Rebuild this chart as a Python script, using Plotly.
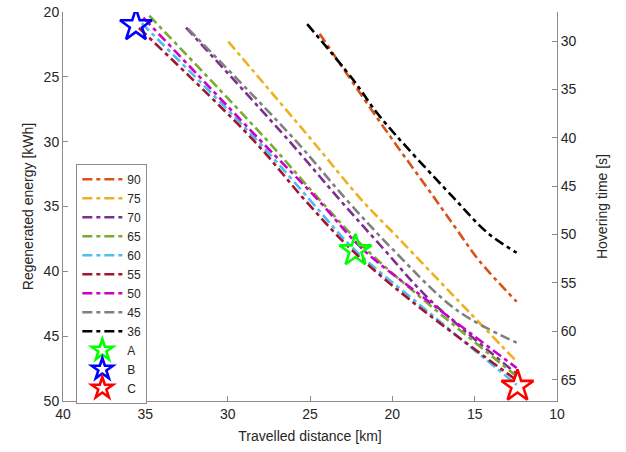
import plotly.graph_objects as go

# ---- data ----
labels = ["90", "75", "70", "65", "60", "55", "50", "45", "36"]
colors = ["#D95319", "#EDB120", "#7E2F8E", "#77AC30", "#4DBEEE",
          "#A2142F", "#CC00CC", "#808080", "#000000"]

x90 = [24.42, 20.55, 17.41, 16.0, 14.68, 12.45]
y90 = [21.67, 28.84, 34.40, 36.94, 39.25, 42.34]

x75 = [29.96, 24.90, 21.86, 19.66, 16.10, 12.45]
y75 = [22.29, 29.87, 34.50, 37.40, 42.13, 46.95]

x70 = [32.53, 26.32, 23.18, 20.57, 17.72, 12.45]
y70 = [21.21, 29.87, 34.50, 38.22, 42.20, 47.90]

x65 = [34.76, 27.63, 24.40, 21.66, 18.10, 12.45]
y65 = [20.29, 29.87, 34.50, 38.22, 42.20, 48.10]

x60 = [35.22, 28.24, 25.00, 22.39, 18.70, 12.45]
y60 = [20.87, 29.87, 34.50, 38.22, 42.20, 48.75]

x55 = [35.39, 28.45, 25.31, 22.57, 18.93, 12.45]
y55 = [21.23, 29.87, 34.50, 38.22, 42.20, 48.40]

x50 = [35.12, 28.04, 24.50, 21.86, 17.92, 12.45]
y50 = [20.44, 29.87, 34.50, 38.22, 42.20, 47.45]

x45 = [32.40, 25.91, 22.77, 20.04, 16.10, 12.45]
y45 = [21.30, 29.87, 34.50, 38.22, 42.98, 45.50]

x36 = [25.17, 22.37, 20.75, 16.30, 14.18, 12.45]
y36 = [20.93, 25.24, 28.07, 34.30, 37.07, 38.56]

series_x = [x90, x75, x70, x65, x60, x55, x50, x45, x36]
series_y = [y90, y75, y70, y65, y60, y55, y50, y45, y36]

point_names = ["A", "B", "C"]
point_x = [22.24, 35.57, 12.40]
point_y = [38.40, 21.04, 48.85]
point_colors = ["#00FF00", "#0000FF", "#FF0000"]

x_ticks = [40, 35, 30, 25, 20, 15, 10]
y_ticks = [20, 25, 30, 35, 40, 45, 50]
y2_ticks = [30, 35, 40, 45, 50, 55, 60, 65]
y2_range = [67.2, 27.0]

FONT = "Arial, Liberation Sans, sans-serif"
TXT = "#262626"
AX = "#8c8c8c"

fig = go.Figure()
for name, c, xs, ys in zip(labels, colors, series_x, series_y):
    fig.add_trace(go.Scatter(
        x=xs, y=ys, name=name, mode="lines",
        line=dict(color=c, width=2.6, dash="10px,4px,4px,4px", shape="spline", smoothing=1.0),
    ))

for n, px, py, c in zip(point_names, point_x, point_y, point_colors):
    fig.add_trace(go.Scatter(
        x=[px], y=[py], name=n, mode="markers",
        marker=dict(symbol="star-open", size=24, color=c, line=dict(color=c, width=2.6)),
    ))

# empty trace so that the right-hand (hovering time) axis is created
fig.add_trace(go.Scatter(x=[], y=[], yaxis="y2", showlegend=False, hoverinfo="skip", mode="lines"))

fig.update_layout(
    width=626, height=452,
    margin=dict(l=63, r=69, t=12, b=51, autoexpand=False),
    paper_bgcolor="white", plot_bgcolor="white",
    font=dict(family=FONT, size=14, color=TXT),
    showlegend=True,
    legend=dict(
        x=0.027, y=0.61, xanchor="left", yanchor="top",
        bgcolor="white", bordercolor="#8c8c8c", borderwidth=1,
        font=dict(family=FONT, size=12, color=TXT),
        tracegroupgap=0, itemwidth=40,
    ),
    xaxis=dict(
        range=[40, 10], tickvals=x_ticks, ticks="inside", ticklen=5,
        tickcolor=AX, showline=True, linecolor=AX, linewidth=1,
        showgrid=False, zeroline=False, automargin=False,
        tickfont=dict(size=14, color=TXT),
        title=dict(text="Travelled distance [km]", font=dict(size=14, color=TXT), standoff=10),
    ),
    yaxis=dict(
        range=[50, 20], tickvals=y_ticks, ticks="inside", ticklen=5,
        tickcolor=AX, showline=True, linecolor=AX, linewidth=1,
        showgrid=False, zeroline=False, automargin=False,
        tickfont=dict(size=14, color=TXT),
        title=dict(text="Regenerated energy [kWh]", font=dict(size=14, color=TXT), standoff=6),
    ),
    yaxis2=dict(
        overlaying="y", side="right", anchor="x",
        range=y2_range, tickvals=y2_ticks, ticks="inside", ticklen=5,
        tickcolor=AX, showline=True, linecolor=AX, linewidth=1,
        showgrid=False, zeroline=False, automargin=False,
        tickfont=dict(size=14, color=TXT),
        title=dict(text="Hovering time [s]", font=dict(size=14, color=TXT), standoff=21),
    ),
)

fig.write_html("out.html", config={"displayModeBar": False},
               post_script="document.body.style.margin='0';")
